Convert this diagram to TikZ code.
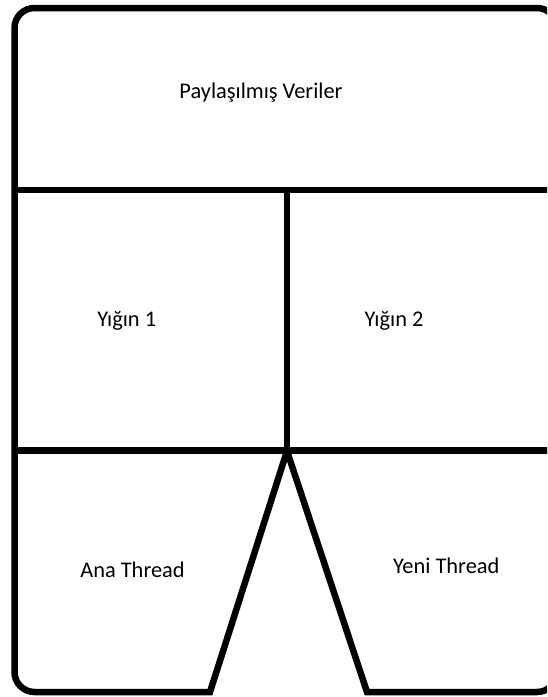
\documentclass[tikz,border=0pt]{standalone}
\usepackage{fontspec}
\setmainfont{Carlito}
\usetikzlibrary{calc}

\begin{document}
\begin{tikzpicture}[
  x=1pt, y=-1pt,
  every node/.style={font=\fontsize{22.4}{26}\selectfont, text=black},
  wall/.style={draw=black, line width=6.5pt, line join=miter},
  lbl/.style={anchor=base, inner sep=0pt}
]
  \useasboundingbox (0,0) rectangle (547,697);
  \clip (0,0) rectangle (547,697);

  %% Corner points
  \coordinate (apex) at (287,451);
  \coordinate (botL) at (210,692);
  \coordinate (botR) at (367,692);

  %% Outer wall, open at the bottom between the two threads
  \draw[wall] (apex) -- (botL) -- (34.5,692)
    arc[start angle=90, end angle=180, radius=20] -- (14.5,28)
    arc[start angle=180, end angle=270, radius=20] -- (537,8)
    arc[start angle=270, end angle=360, radius=20] -- (557,672)
    arc[start angle=0, end angle=90, radius=20] -- (botR) -- (apex);

  %% Dividers
  \coordinate (midL) at (14.5,190);
  \coordinate (midR) at (557,190);
  \coordinate (lowL) at (14.5,450.5);
  \coordinate (lowR) at (557,450.5);
  \draw[wall] (midL) -- (midR);
  \draw[wall] (lowL) -- (lowR);
  \draw[wall] (287,190) -- (apex);

  %% Labels
  \node[lbl] (shared) at (261,98)    {Paylaşılmış Veriler};
  \node[lbl] (heap1)  at (126.7,326) {Yığın 1};
  \node[lbl] (heap2)  at (394,326)   {Yığın 2};
  \node[lbl] (mainth) at (132.5,577) {Ana Thread};
  \node[lbl] (newth)  at (446.3,573) {Yeni Thread};
\end{tikzpicture}
\end{document}
